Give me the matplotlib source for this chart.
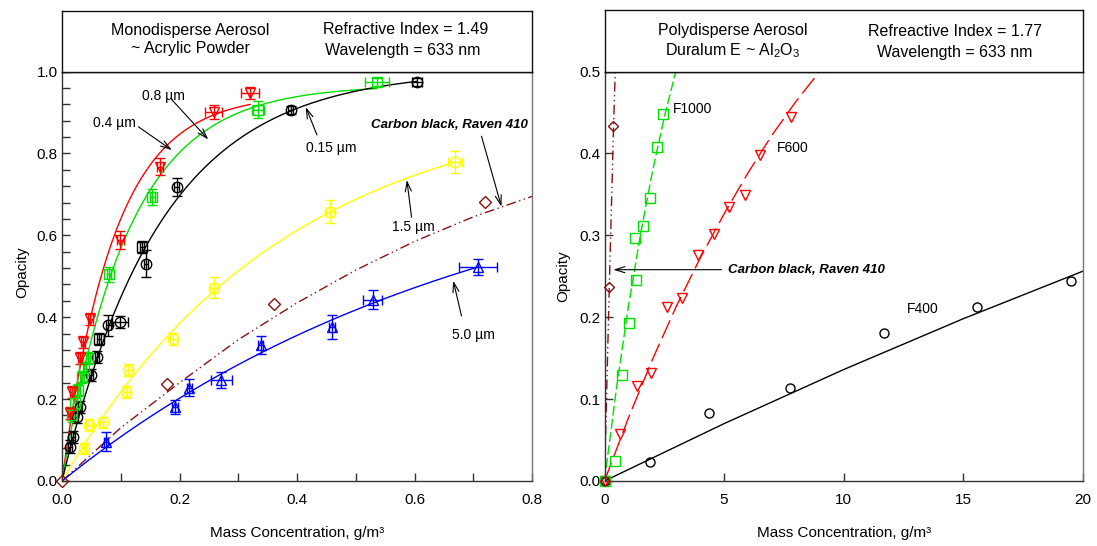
import numpy as np
import matplotlib
matplotlib.use('Agg')
import matplotlib.pyplot as plt
from matplotlib.ticker import MultipleLocator, FormatStrFormatter

plt.rcParams['font.family'] = ['Liberation Sans', 'DejaVu Sans']
plt.rcParams['mathtext.fontset'] = 'custom'
plt.rcParams['mathtext.rm'] = 'Liberation Sans'
plt.rcParams['mathtext.it'] = 'Liberation Sans:italic'
plt.rcParams['mathtext.default'] = 'regular'

# ---------------- data: left panel (monodisperse acrylic) ----------------
red_x = [0.014, 0.017, 0.031, 0.036, 0.048, 0.099, 0.167, 0.258, 0.320]
red_y = [0.166, 0.218, 0.300, 0.340, 0.395, 0.588, 0.768, 0.901, 0.948]
red_xerr = [0.003, 0.003, 0.003, 0.003, 0.004, 0.006, 0.005, 0.014, 0.016]
red_yerr = [0.015, 0.015, 0.015, 0.015, 0.015, 0.022, 0.020, 0.018, 0.015]

green_x = [0.017, 0.022, 0.028, 0.034, 0.038, 0.044, 0.080, 0.154, 0.333, 0.536]
green_y = [0.160, 0.190, 0.222, 0.254, 0.275, 0.300, 0.505, 0.693, 0.907, 0.974]
green_xerr = [0.003, 0.003, 0.003, 0.003, 0.003, 0.003, 0.004, 0.005, 0.010, 0.021]
green_yerr = [0.015, 0.015, 0.015, 0.015, 0.015, 0.015, 0.018, 0.020, 0.020, 0.010]

black_x = [0.014, 0.019, 0.025, 0.031, 0.049, 0.060, 0.063, 0.079, 0.099, 0.136, 0.143, 0.195, 0.389, 0.604]
black_y = [0.084, 0.108, 0.157, 0.181, 0.259, 0.303, 0.346, 0.380, 0.389, 0.571, 0.531, 0.718, 0.905, 0.974]
black_xerr = [0.003, 0.003, 0.003, 0.003, 0.003, 0.003, 0.003, 0.004, 0.014, 0.004, 0.004, 0.004, 0.005, 0.008]
black_yerr = [0.015, 0.015, 0.015, 0.015, 0.015, 0.015, 0.015, 0.026, 0.015, 0.015, 0.033, 0.022, 0.010, 0.010]
black_marker = ['o', 'o', 'o', 'o', 'o', 'o', 's', 'o', 'o', 's', 'o', 'o', 'o', 'o']

yellow_x = [0.037, 0.046, 0.069, 0.109, 0.113, 0.189, 0.258, 0.456, 0.669]
yellow_y = [0.080, 0.137, 0.143, 0.218, 0.271, 0.346, 0.472, 0.657, 0.779]
yellow_xerr = [0.004, 0.005, 0.005, 0.006, 0.006, 0.006, 0.006, 0.007, 0.012]
yellow_yerr = [0.013, 0.015, 0.013, 0.015, 0.015, 0.015, 0.026, 0.028, 0.026]

blue_x = [0.075, 0.192, 0.217, 0.271, 0.338, 0.459, 0.529, 0.708]
blue_y = [0.096, 0.181, 0.228, 0.246, 0.332, 0.376, 0.443, 0.523]
blue_xerr = [0.003, 0.005, 0.005, 0.018, 0.004, 0.005, 0.016, 0.033]
blue_yerr = [0.023, 0.018, 0.020, 0.020, 0.023, 0.030, 0.024, 0.020]

carbonL_x = [0.0, 0.179, 0.360, 0.720]
carbonL_y = [0.0, 0.236, 0.433, 0.681]
carbonL_curve_x = [0.0, 0.1, 0.2, 0.3, 0.4, 0.5, 0.6, 0.7, 0.8]
carbonL_curve_y = [0.0, 0.130, 0.240, 0.345, 0.435, 0.515, 0.585, 0.645, 0.695]

# ---------------- data: right panel (polydisperse Al2O3) ----------------
f1000_x = [0.0, 0.42, 0.73, 1.03, 1.29, 1.33, 1.59, 1.91, 2.19, 2.45]
f1000_y = [0.0, 0.024, 0.129, 0.193, 0.297, 0.245, 0.311, 0.345, 0.408, 0.448]
f1000_curve_x = [0.0, 0.5, 1.0, 1.5, 2.0, 2.5, 3.0, 3.5]
f1000_curve_y = [0.0, 0.113, 0.213, 0.300, 0.377, 0.444, 0.502, 0.553]

f600_x = [0.0, 0.66, 1.36, 1.96, 2.61, 3.24, 3.91, 4.57, 5.19, 5.87, 6.52, 7.82]
f600_y = [0.0, 0.057, 0.116, 0.132, 0.212, 0.224, 0.276, 0.302, 0.335, 0.349, 0.398, 0.444]
f600_curve_x = [0.0, 1.0, 2.0, 3.0, 4.0, 5.0, 6.0, 7.0, 8.0, 9.0, 10.0]
f600_curve_y = [0.0, 0.077, 0.148, 0.213, 0.272, 0.326, 0.376, 0.422, 0.463, 0.500, 0.535]

f400_x = [0.0, 1.89, 4.39, 7.78, 11.69, 15.60, 19.51]
f400_y = [0.0, 0.0235, 0.0825, 0.113, 0.181, 0.2126, 0.244]
f400_curve_x = [0.0, 5.0, 10.0, 15.0, 20.0]
f400_curve_y = [0.0, 0.070, 0.136, 0.198, 0.256]

carbonR_x = [0.0, 0.20, 0.35]
carbonR_y = [0.0, 0.237, 0.434]
carbonR_curve_x = [0.0, 0.20, 0.38, 0.46]
carbonR_curve_y = [0.0, 0.237, 0.434, 0.510]

left_yticks = [0.0, 0.2, 0.4, 0.6, 0.8, 1.0]
right_yticks = [0.0, 0.1, 0.2, 0.3, 0.4, 0.5]

# ---------------- colours ----------------
RED, GREEN, BLACK, YELLOW, BLUE, BROWN = '#ff0000', '#00e000', '#000000', '#ffff00', '#0000ff', '#8b1010'


def sat_fit(x, y):
    """least-squares fit of y = a(1-exp(-b x)) to the measured points"""
    x = np.asarray(x, float)
    y = np.asarray(y, float)
    best = (np.inf, 1.0, 1.0)
    for b in np.logspace(-3, 2, 4000):
        g = 1 - np.exp(-b * x)
        a = (g @ y) / (g @ g)
        r = np.sum((a * g - y) ** 2)
        if r < best[0]:
            best = (r, a, b)
    return best[1], best[2]


def fit_curve(ax, x, y, xmax, **kw):
    a, b = sat_fit(x, y)
    xs = np.linspace(0, xmax, 300)
    ax.plot(xs, a * (1 - np.exp(-b * xs)), **kw)


def points(ax, x, y, color, marker, ms, xerr=None, yerr=None):
    if xerr is not None or yerr is not None:
        ax.errorbar(x, y, xerr=xerr, yerr=yerr, fmt='none', ecolor=color,
                    elinewidth=1.0, capsize=3.5, capthick=1.0, clip_on=False, zorder=4)
    if isinstance(marker, str):
        marker = [marker] * len(x)
    for mk in sorted(set(marker)):
        xx = [xi for xi, m in zip(x, marker) if m == mk]
        yy = [yi for yi, m in zip(y, marker) if m == mk]
        ax.plot(xx, yy, linestyle='none', marker=mk, ms=ms, mfc='none',
                mec=color, mew=1.0, clip_on=False, zorder=5)


W, H = 1097, 546
fig = plt.figure(figsize=(W / 100, H / 100), dpi=100)


def fa(l, t, r, b):
    return [l / W, 1 - b / H, (r - l) / W, (b - t) / H]


axL = fig.add_axes(fa(62, 71.5, 532, 481))
hdL = fig.add_axes(fa(62, 11, 532, 71.5))
axR = fig.add_axes(fa(604.5, 71.5, 1082.5, 481))
hdR = fig.add_axes(fa(604.5, 10, 1082.5, 71.5))

for hd in (hdL, hdR):
    hd.set_xticks([])
    hd.set_yticks([])
    for s in hd.spines.values():
        s.set_color('#111111')
        s.set_linewidth(1.0)

FS = 11
HFS = 11.5
for ax in (axL, axR):
    ax.spines['left'].set_color('#333333')
    ax.spines['bottom'].set_color('#333333')
    ax.spines['right'].set_color('#777777')
    ax.spines['top'].set_color('#000000')
    for s in ax.spines.values():
        s.set_linewidth(1.0)
    ax.tick_params(which='both', direction='in', length=6, width=1.0, colors='#333333',
                   labelcolor='black', labelsize=FS, top=False, right=False)
    ax.tick_params(axis='y', which='both', pad=3)
    ax.tick_params(axis='x', which='both', pad=9)

# ---------------- left panel ----------------
axL.set_xlim(0, 0.8)
axL.set_ylim(0, 1.0)
axL.xaxis.set_major_locator(MultipleLocator(0.2))
axL.xaxis.set_minor_locator(MultipleLocator(0.1))
axL.set_yticks(left_yticks)
axL.yaxis.set_minor_locator(MultipleLocator(0.04))
axL.xaxis.set_major_formatter(FormatStrFormatter('%.1f'))
axL.yaxis.set_major_formatter(FormatStrFormatter('%.1f'))

lw = 1.0
DASHDOTDOT = (0, (7, 2.5, 1, 2.5, 1, 2.5))
axL.plot(carbonL_curve_x, carbonL_curve_y, color=BROWN, lw=lw, ls=DASHDOTDOT)
fit_curve(axL, red_x, red_y, max(red_x), color=RED, lw=lw)
fit_curve(axL, green_x, green_y, max(green_x), color=GREEN, lw=lw)
fit_curve(axL, black_x, black_y, max(black_x), color=BLACK, lw=lw)
fit_curve(axL, yellow_x, yellow_y, max(yellow_x), color=YELLOW, lw=lw)
fit_curve(axL, blue_x, blue_y, max(blue_x), color=BLUE, lw=lw)

points(axL, yellow_x, yellow_y, YELLOW, 'o', 7.5, yellow_xerr, yellow_yerr)
points(axL, blue_x, blue_y, BLUE, '^', 7.5, blue_xerr, blue_yerr)
points(axL, black_x, black_y, BLACK, black_marker, 7.5, black_xerr, black_yerr)
points(axL, green_x, green_y, GREEN, 's', 7, green_xerr, green_yerr)
points(axL, red_x, red_y, RED, 'v', 7.5, red_xerr, red_yerr)
points(axL, carbonL_x, carbonL_y, BROWN, 'D', 6)

arr = dict(arrowstyle='->,head_length=0.7,head_width=0.22', lw=0.8, color='black',
           shrinkA=0, shrinkB=0)
AFS = 10
axL.text(0.172, 0.940, '0.8 µm', fontsize=AFS, ha='center', va='center')
axL.annotate('', xy=(0.249, 0.834), xytext=(0.187, 0.931), arrowprops=arr)
axL.text(0.090, 0.875, '0.4 µm', fontsize=AFS, ha='center', va='center')
axL.annotate('', xy=(0.187, 0.808), xytext=(0.130, 0.865), arrowprops=arr)
axL.text(0.459, 0.812, '0.15 µm', fontsize=AFS, ha='center', va='center')
axL.annotate('', xy=(0.415, 0.913), xytext=(0.434, 0.845), arrowprops=arr)
axL.text(0.598, 0.621, '1.5 µm', fontsize=AFS, ha='center', va='center')
axL.annotate('', xy=(0.587, 0.735), xytext=(0.595, 0.644), arrowprops=arr)
axL.text(0.660, 0.869, 'Carbon black, Raven 410', fontsize=9.5, ha='center', va='center',
         fontweight='bold', fontstyle='italic')
axL.annotate('', xy=(0.748, 0.670), xytext=(0.714, 0.842), arrowprops=arr)
axL.text(0.701, 0.357, '5.0 µm', fontsize=AFS, ha='center', va='center')
axL.annotate('', xy=(0.666, 0.489), xytext=(0.680, 0.403), arrowprops=arr)

# ---------------- right panel ----------------
axR.set_xlim(0, 20)
axR.set_ylim(0, 0.5)
axR.xaxis.set_major_locator(MultipleLocator(5))
axR.set_yticks(right_yticks)
axR.yaxis.set_major_formatter(FormatStrFormatter('%.1f'))

axR.plot(carbonR_curve_x, carbonR_curve_y, color=BROWN, lw=lw, ls=DASHDOTDOT)
axR.plot(f1000_curve_x, f1000_curve_y, color=GREEN, lw=lw, ls=(0, (7, 2.5)))
axR.plot(f600_curve_x, f600_curve_y, color=RED, lw=lw, ls=(0, (14, 4.5)))
axR.plot(f400_curve_x, f400_curve_y, color=BLACK, lw=lw)

points(axR, f400_x, f400_y, BLACK, 'o', 6.5)
points(axR, f600_x, f600_y, RED, 'v', 7)
points(axR, f1000_x, f1000_y, GREEN, 's', 6.5)
points(axR, carbonR_x, carbonR_y, BROWN, 'D', 5.5)

axR.text(3.70, 0.454, 'F1000', fontsize=AFS, ha='center', va='center')
axR.text(7.86, 0.407, 'F600', fontsize=AFS, ha='center', va='center')
axR.text(13.30, 0.210, 'F400', fontsize=AFS, ha='center', va='center')
axR.text(5.18, 0.258, 'Carbon black, Raven 410', fontsize=9.5, ha='left', va='center',
         fontweight='bold', fontstyle='italic')
axR.annotate('', xy=(0.37, 0.258), xytext=(4.90, 0.258), arrowprops=arr)

# ---------------- headers and axis labels (pixel placed) ----------------
def ftext(x, y, s, **kw):
    fig.text(x / W, 1 - y / H, s, ha='center', va='center', **kw)

ftext(190, 30, 'Monodisperse Aerosol', fontsize=HFS)
ftext(190, 49, '~ Acrylic Powder', fontsize=HFS)
ftext(406, 30, 'Refractive Index = 1.49', fontsize=HFS)
ftext(403, 50, 'Wavelength = 633 nm', fontsize=HFS)
ftext(733, 30, 'Polydisperse Aerosol', fontsize=HFS)
ftext(733, 51, 'Duralum E ~ Al$_2$O$_3$', fontsize=HFS)
ftext(955, 31, 'Refreactive Index = 1.77', fontsize=HFS)
ftext(955, 52, 'Wavelength = 633 nm', fontsize=HFS)

ftext(22, 272, 'Opacity', fontsize=FS, rotation=90)
ftext(563, 276, 'Opacity', fontsize=FS, rotation=90)
ftext(297, 533, 'Mass Concentration, g/m³', fontsize=FS)
ftext(844, 533, 'Mass Concentration, g/m³', fontsize=FS)

fig.savefig('out.png', dpi=100)
